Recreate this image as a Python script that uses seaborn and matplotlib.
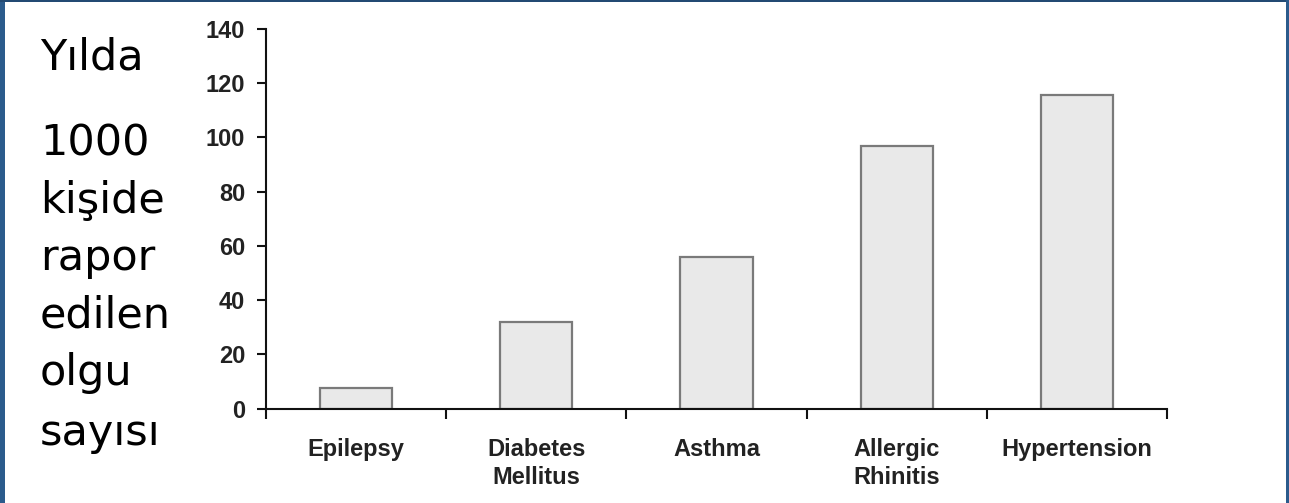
import matplotlib
matplotlib.use("Agg")
import matplotlib.pyplot as plt
from matplotlib.patches import Rectangle
import seaborn as sns
import pandas as pd

# Data
categories = ["Epilepsy", "Diabetes\nMellitus", "Asthma", "Allergic\nRhinitis", "Hypertension"]
cases_per_1000 = [7.5, 32, 56, 97, 115.5]
y_ticks = [0, 20, 40, 60, 80, 100, 120, 140]
side_label_lines = ["Yılda", "1000", "kişide", "rapor", "edilen", "olgu", "sayısı"]

df = pd.DataFrame({"disease": categories, "cases": cases_per_1000})

sns.set_style("white")
plt.rcParams["font.family"] = ["DejaVu Sans"]

W, H = 1289, 503
fig = plt.figure(figsize=(W / 100, H / 100), dpi=100)
fig.patch.set_facecolor("white")

ax = fig.add_axes([266 / W, 1 - 408.5 / H, (1167 - 266) / W, (408.5 - 29) / H])

sns.barplot(data=df, x="disease", y="cases", ax=ax, width=0.4,
            color="#e9e9e9", edgecolor="#7a7a7a", linewidth=1.6,
            saturation=1)

ax.set_xlim(-0.5, len(categories) - 0.5)
ax.set_ylim(0, 140)
ax.set_xlabel("")
ax.set_ylabel("")

for side in ["top", "right"]:
    ax.spines[side].set_visible(False)
for side in ["left", "bottom"]:
    ax.spines[side].set_color("#111111")
    ax.spines[side].set_linewidth(1.5)

tick_font = dict(family="Liberation Sans", weight="bold", size=17)

ax.set_yticks(y_ticks)
ax.set_yticklabels([str(v) for v in y_ticks], fontdict=tick_font, color="#222222")
ax.tick_params(axis="y", which="major", direction="out", length=6.5, width=1.5,
               color="#111111", pad=8.5, left=True)

# Category boundaries carry the tick marks, centres carry the labels
bounds = [i - 0.5 for i in range(len(categories) + 1)]
ax.set_xticks(bounds)
ax.set_xticklabels([""] * len(bounds))
ax.set_xticks(range(len(categories)), minor=True)
ax.set_xticklabels(categories, minor=True, fontdict=tick_font, color="#222222",
                   linespacing=1.3)
ax.tick_params(axis="x", which="major", direction="out", length=7, width=1.5,
               color="#111111", bottom=True)
ax.tick_params(axis="x", which="minor", length=0, pad=21)

# Side label, one word per line
baselines = [70, 155, 213, 270, 327, 385, 445]
for text, yb in zip(side_label_lines, baselines):
    fig.text(40 / W, 1 - yb / H, text, fontsize=31, color="black",
             ha="left", va="baseline", family="DejaVu Sans")

# Slide frame in dark blue
fig.patches.append(Rectangle((0, 0), 5 / W, 1, transform=fig.transFigure,
                             facecolor="#2b5b8c", edgecolor="none", zorder=10))
fig.patches.append(Rectangle((0, 1 - 2 / H), 1, 2 / H, transform=fig.transFigure,
                             facecolor="#234a73", edgecolor="none", zorder=10))
fig.patches.append(Rectangle((1 - 3 / W, 0), 3 / W, 1, transform=fig.transFigure,
                             facecolor="#2b5b8c", edgecolor="none", zorder=10))

fig.savefig("out.png", dpi=100, facecolor="white")
